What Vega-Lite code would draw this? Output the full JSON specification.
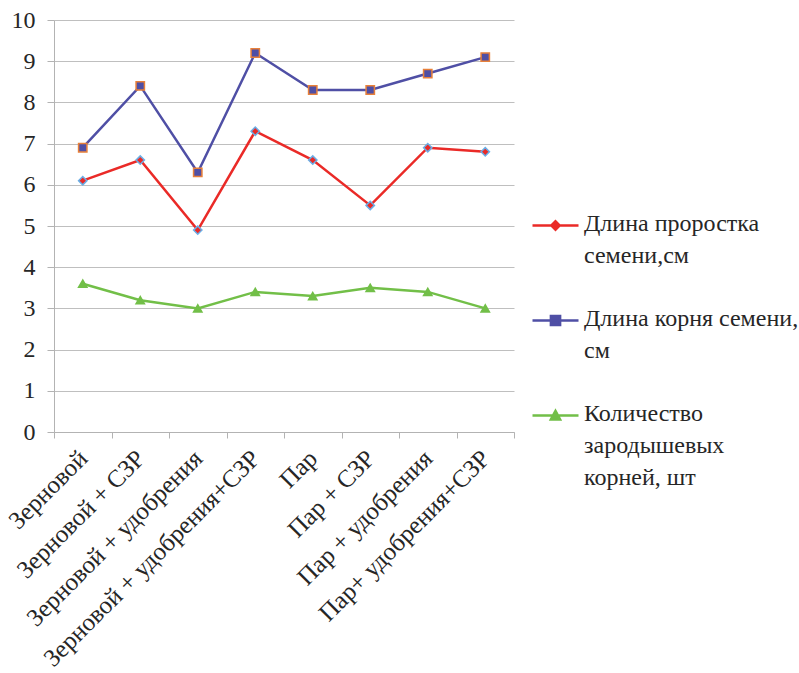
{
  "$schema": "https://vega.github.io/schema/vega-lite/v6.json",
  "width": 460,
  "height": 412,
  "padding": {"left": 3, "top": 8, "right": 0, "bottom": 0},
  "background": "white",
  "config": {
    "font": "Liberation Serif",
    "view": {"stroke": null},
    "axis": {"labelFont": "Liberation Serif", "labelFontSize": 24, "labelColor": "#262626", "domainColor": "#b3b3b3", "tickColor": "#b3b3b3", "gridColor": "#bfbfbf", "title": null},
    "legend": {"labelFont": "Liberation Serif"}
  },
  "data": {"values": [
    {"cat": "Зерновой", "series": "Длина проростка семени,см", "value": 6.1},
    {"cat": "Зерновой + СЗР", "series": "Длина проростка семени,см", "value": 6.6},
    {"cat": "Зерновой + удобрения", "series": "Длина проростка семени,см", "value": 4.9},
    {"cat": "Зерновой + удобрения+СЗР", "series": "Длина проростка семени,см", "value": 7.3},
    {"cat": "Пар", "series": "Длина проростка семени,см", "value": 6.6},
    {"cat": "Пар + СЗР", "series": "Длина проростка семени,см", "value": 5.5},
    {"cat": "Пар + удобрения", "series": "Длина проростка семени,см", "value": 6.9},
    {"cat": "Пар+ удобрения+СЗР", "series": "Длина проростка семени,см", "value": 6.8},
    {"cat": "Зерновой", "series": "Длина корня семени, см", "value": 6.9},
    {"cat": "Зерновой + СЗР", "series": "Длина корня семени, см", "value": 8.4},
    {"cat": "Зерновой + удобрения", "series": "Длина корня семени, см", "value": 6.3},
    {"cat": "Зерновой + удобрения+СЗР", "series": "Длина корня семени, см", "value": 9.2},
    {"cat": "Пар", "series": "Длина корня семени, см", "value": 8.3},
    {"cat": "Пар + СЗР", "series": "Длина корня семени, см", "value": 8.3},
    {"cat": "Пар + удобрения", "series": "Длина корня семени, см", "value": 8.7},
    {"cat": "Пар+ удобрения+СЗР", "series": "Длина корня семени, см", "value": 9.1},
    {"cat": "Зерновой", "series": "Количество зародышевых корней, шт", "value": 3.6},
    {"cat": "Зерновой + СЗР", "series": "Количество зародышевых корней, шт", "value": 3.2},
    {"cat": "Зерновой + удобрения", "series": "Количество зародышевых корней, шт", "value": 3.0},
    {"cat": "Зерновой + удобрения+СЗР", "series": "Количество зародышевых корней, шт", "value": 3.4},
    {"cat": "Пар", "series": "Количество зародышевых корней, шт", "value": 3.3},
    {"cat": "Пар + СЗР", "series": "Количество зародышевых корней, шт", "value": 3.5},
    {"cat": "Пар + удобрения", "series": "Количество зародышевых корней, шт", "value": 3.4},
    {"cat": "Пар+ удобрения+СЗР", "series": "Количество зародышевых корней, шт", "value": 3.0}
  ]},
  "encoding": {
    "x": {
      "field": "cat", "type": "nominal", "sort": null,
      "scale": {"type": "band", "paddingInner": 0, "paddingOuter": 0},
      "axis": {"labelAngle": -45, "labelAlign": "right", "labelBaseline": "middle", "labelFontSize": 25, "tickBand": "extent", "tickSize": 6, "labelPadding": 16, "grid": false, "labelLimit": 400}
    },
    "y": {
      "field": "value", "type": "quantitative",
      "scale": {"domain": [0, 10], "nice": false},
      "axis": {"values": [0,1,2,3,4,5,6,7,8,9,10], "tickSize": 7, "labelPadding": 12, "grid": true, "domain": true}
    },
    "color": {"field": "series", "type": "nominal", "sort": null,
      "scale": {"domain": ["Длина проростка семени,см", "Длина корня семени, см", "Количество зародышевых корней, шт"], "range": ["#ea2a27", "#4f4fa5", "#72bf48"]},
      "legend": {
        "orient": "none", "legendX": 477, "legendY": 181, "title": null,
        "symbolSize": 2116, "symbolStrokeWidth": 2.5,
        "labelFontSize": 24, "labelColor": "#262626",
        "labelLimit": 400, "labelOffset": 4, "rowPadding": 28, "labelBaseline": "top",
        "labelExpr": "datum.label == 'Длина проростка семени,см' ? ['Длина проростка', 'семени,см'] : datum.label == 'Длина корня семени, см' ? ['Длина корня семени,', 'см'] : ['Количество', 'зародышевых', 'корней, шт']",
        "encode": {
          "symbols": {"update": {
            "shape": {"signal": "datum.value == 'Длина проростка семени,см' ? 'M-1,0H1M-0.18,0L0,-0.18L0.18,0L0,0.18Z' : datum.value == 'Длина корня семени, см' ? 'M-1,0H1M-0.2,-0.2H0.2V0.2H-0.2Z' : 'M-1,0H1M-0.2,0.17L0,-0.2L0.2,0.17Z'"},
            "stroke": {"signal": "datum.value == 'Длина проростка семени,см' ? '#ea2a27' : datum.value == 'Длина корня семени, см' ? '#4f4fa5' : '#72bf48'"},
            "fill": {"signal": "datum.value == 'Длина проростка семени,см' ? '#ea2a27' : datum.value == 'Длина корня семени, см' ? '#4f4fa5' : '#72bf48'"},
            "strokeWidth": {"value": 2.5},
            "opacity": {"value": 1}
          }},
          "labels": {"update": {"dy": {"value": -14}, "lineHeight": {"value": 32}}}
        }
      }
    }
  },
  "layer": [
    {
      "mark": {"type": "line", "strokeWidth": 2.5}
    },
    {
      "mark": {"type": "point", "filled": true, "opacity": 1, "strokeWidth": 1.5},
      "encoding": {
        "shape": {
          "condition": [
            {"test": "datum.series == 'Длина проростка семени,см'", "value": "diamond"},
            {"test": "datum.series == 'Длина корня семени, см'", "value": "square"}
          ],
          "value": "triangle-up"},
        "stroke": {
          "condition": [
            {"test": "datum.series == 'Длина проростка семени,см'", "value": "#6aaee6"},
            {"test": "datum.series == 'Длина корня семени, см'", "value": "#e8803a"}
          ],
          "value": "#72bf48"},
        "size": {"value": 70}
      }
    }
  ]
}
